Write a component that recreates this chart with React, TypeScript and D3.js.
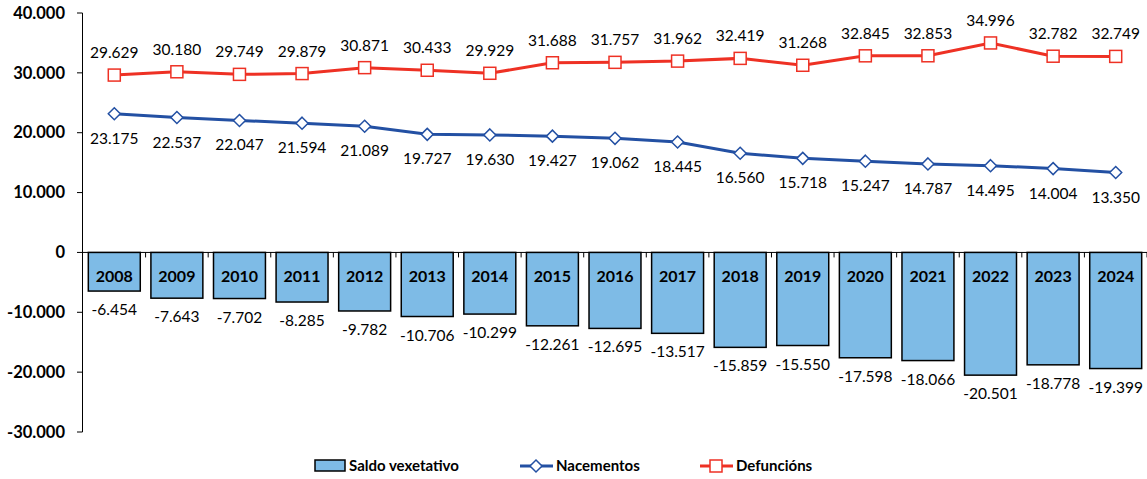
import React from "react";
import * as d3 from "d3";

const years = ["2008","2009","2010","2011","2012","2013","2014","2015","2016","2017","2018","2019","2020","2021","2022","2023","2024"];
const saldo = [-6454,-7643,-7702,-8285,-9782,-10706,-10299,-12261,-12695,-13517,-15859,-15550,-17598,-18066,-20501,-18778,-19399];
const nacementos = [23175,22537,22047,21594,21089,19727,19630,19427,19062,18445,16560,15718,15247,14787,14495,14004,13350];
const defuncions = [29629,30180,29749,29879,30871,30433,29929,31688,31757,31962,32419,31268,32845,32853,34996,32782,32749];
const yTicks = [40000,30000,20000,10000,0,-10000,-20000,-30000];

const W = 1147, H = 479;
const FONT = "Lato, 'Open Sans', sans-serif";
const fmt = (v: number) => {
  const s = Math.abs(v).toString().replace(/\B(?=(\d{3})+(?!\d))/g, ".");
  return (v < 0 ? "-" : "") + s;
};

export default function App() {
  const x = d3.scaleBand().domain(years).range([83, 1147]).paddingInner(0.17).paddingOuter(0.085);
  const y = d3.scaleLinear().domain([-30000, 40000]).range([432, 13]);
  const cx = (yr: string) => (x(yr) as number) + x.bandwidth() / 2;
  const step = x.step();
  const lineGen = d3.line<number>().x((_, i) => cx(years[i])).y(d => y(d));
  const blue = "#2350A3", red = "#EE3124", barFill = "#7EBBE6";
  const boundaries = d3.range(years.length + 1).map(i => 83 + i * step);
  return (
    <svg width={W} height={H} style={{ position: "absolute", left: 0, top: 0, fontFamily: FONT }}>
      {/* y axis */}
      <line x1={82.5} x2={82.5} y1={y(40000)} y2={y(-30000)} stroke="#000" strokeWidth={1} />
      {yTicks.map(t => (
        <g key={t}>
          <line x1={77} x2={82.5} y1={y(t)} y2={y(t)} stroke="#000" />
          <text x={65} y={y(t)} dy="0.35em" textAnchor="end" fontSize={16.5} fontWeight="bold">{fmt(t)}</text>
        </g>
      ))}
      {/* bars */}
      {years.map((yr, i) => (
        <g key={yr}>
          <rect x={x(yr)} y={y(0)} width={x.bandwidth()} height={y(saldo[i]) - y(0)} fill={barFill} stroke="#000" strokeWidth={1.5} />
          <text x={cx(yr)} y={y(0) + 30} textAnchor="middle" fontSize={16} fontWeight="bold">{yr}</text>
          <text x={cx(yr)} y={y(saldo[i]) + 24} textAnchor="middle" fontSize={15.5}>{fmt(saldo[i])}</text>
        </g>
      ))}
      {/* x axis */}
      <line x1={82} x2={1147} y1={y(0)} y2={y(0)} stroke="#000" strokeWidth={1} />
      {boundaries.slice(1).map((b, i) => (
        <line key={i} x1={b} x2={b} y1={y(0)} y2={y(0) + 5} stroke="#000" />
      ))}
      {/* lines */}
      <path d={lineGen(nacementos) || ""} fill="none" stroke={blue} strokeWidth={3} />
      <path d={lineGen(defuncions) || ""} fill="none" stroke={red} strokeWidth={3} />
      {years.map((yr, i) => (
        <g key={"m" + yr}>
          <path d={`M${cx(yr)},${y(nacementos[i]) - 6}L${cx(yr) + 6},${y(nacementos[i])}L${cx(yr)},${y(nacementos[i]) + 6}L${cx(yr) - 6},${y(nacementos[i])}Z`} fill="#fff" stroke={blue} strokeWidth={1.5} />
          <rect x={cx(yr) - 6} y={y(defuncions[i]) - 6} width={12} height={12} fill="#fff" stroke={red} strokeWidth={1.5} />
          <text x={cx(yr)} y={y(nacementos[i]) + 30} textAnchor="middle" fontSize={15.5}>{fmt(nacementos[i])}</text>
          <text x={cx(yr)} y={y(defuncions[i]) - 17} textAnchor="middle" fontSize={15.5}>{fmt(defuncions[i])}</text>
        </g>
      ))}
      {/* legend */}
      <g fontSize={15} fontWeight="bold">
        <rect x={315} y={460} width={30} height={11} fill={barFill} stroke="#000" strokeWidth={1.5} />
        <text x={349} y={466} dy="0.35em">Saldo vexetativo</text>
        <line x1={520} x2={553} y1={466} y2={466} stroke={blue} strokeWidth={3} />
        <path d="M536,460L542,466L536,472L530,466Z" fill="#fff" stroke={blue} strokeWidth={1.5} />
        <text x={556} y={466} dy="0.35em">Nacementos</text>
        <line x1={700} x2={733} y1={466} y2={466} stroke={red} strokeWidth={3} />
        <rect x={710} y={460} width={12} height={12} fill="#fff" stroke={red} strokeWidth={1.5} />
        <text x={736} y={466} dy="0.35em">Defuncións</text>
      </g>
    </svg>
  );
}
